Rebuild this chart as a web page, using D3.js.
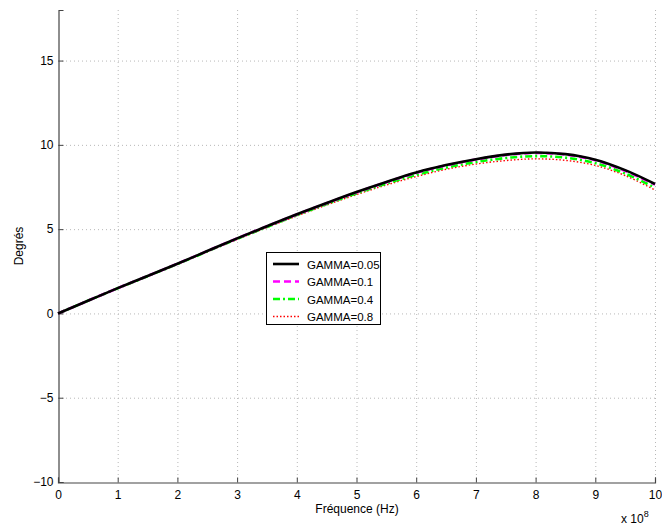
<!DOCTYPE html>
<html><head><meta charset="utf-8">
<script src="https://cdn.jsdelivr.net/npm/d3@7"></script>
<style>body{margin:0;background:#fff;} text{font-family:"Liberation Sans",Arial,sans-serif;}</style>
</head><body>
<svg id="c" width="662" height="526"></svg>
<script>
const freq = [0,0.5,1,1.5,2,2.5,3,3.5,4,4.5,5,5.5,6,6.5,7,7.5,8,8.5,9,9.5,10];
const g005 = [0,0.75,1.5,2.22,2.95,3.7,4.45,5.17,5.88,6.55,7.2,7.8,8.36,8.8,9.15,9.42,9.55,9.45,9.12,8.5,7.68];
const g01  = [0,0.75,1.5,2.22,2.95,3.7,4.45,5.17,5.87,6.54,7.18,7.78,8.34,8.78,9.13,9.4,9.52,9.42,9.09,8.46,7.64];
const g04  = [0,0.75,1.49,2.21,2.93,3.68,4.42,5.13,5.83,6.49,7.12,7.7,8.22,8.65,8.98,9.22,9.33,9.24,8.92,8.3,7.46];
const g08  = [0,0.74,1.48,2.2,2.92,3.66,4.39,5.1,5.78,6.43,7.05,7.62,8.12,8.55,8.86,9.07,9.17,9.08,8.78,8.18,7.32];
const names = ["GAMMA=0.05","GAMMA=0.1","GAMMA=0.4","GAMMA=0.8"];
const xTicks = [0,1,2,3,4,5,6,7,8,9,10];
const yTicks = [-10,-5,0,5,10,15];

const svg = d3.select("#c");
const L=58, R=655, T=10, B=482;
const x = d3.scaleLinear().domain([0,10]).range([L,R]);
const y = d3.scaleLinear().domain([-10,18]).range([B,T]);

// grid
const grid = svg.append("g").attr("stroke","#b8b8b8").attr("stroke-width",1).attr("stroke-dasharray","1,3");
xTicks.slice(1).forEach(t=>grid.append("line").attr("x1",x(t)+0.5).attr("x2",x(t)+0.5).attr("y1",T).attr("y2",B));
yTicks.slice(1).forEach(t=>grid.append("line").attr("x1",L).attr("x2",R).attr("y1",y(t)+0.5).attr("y2",y(t)+0.5));

// axes
const xa = svg.append("g").attr("transform",`translate(0,${B+0.5})`)
  .call(d3.axisBottom(x).tickValues(xTicks).tickSize(-5).tickPadding(8).tickFormat(d3.format("d")));
const ya = svg.append("g").attr("transform",`translate(${L+0.5},0)`)
  .call(d3.axisLeft(y).tickValues(yTicks).tickSize(-5).tickPadding(5).tickFormat(d3.format("d")));
[xa,ya].forEach(a=>{
  a.select(".domain").attr("stroke","#444").attr("stroke-width",1.2);
  a.selectAll(".tick line").attr("stroke","#444");
  a.selectAll(".tick text").attr("font-size",12).attr("fill","#000").attr("font-family","Liberation Sans, Arial, sans-serif");
});

// series
const series = [
  {v:g005, color:"#000000", w:2.6, dash:null},
  {v:g01,  color:"#ff00ff", w:2.6, dash:"7,4"},
  {v:g04,  color:"#00ff00", w:2.6, dash:"7,3,2,3"},
  {v:g08,  color:"#ff0000", w:1.4, dash:"1.5,2"}
];
const line = d3.line().x((d,i)=>x(freq[i])).y(d=>y(d)).curve(d3.curveCatmullRom);
series.slice().reverse().forEach(s=>{
  svg.append("path").attr("d",line(s.v)).attr("fill","none").attr("stroke",s.color)
    .attr("stroke-width",s.w).attr("stroke-dasharray",s.dash);
});

// legend
const lg = svg.append("g");
lg.append("rect").attr("x",266.5).attr("y",252.5).attr("width",114).attr("height",72)
  .attr("fill","#fff").attr("stroke","#000").attr("stroke-width",1);
series.forEach((s,i)=>{
  const yy = 264 + i*17.5;
  lg.append("line").attr("x1",273).attr("x2",299).attr("y1",yy).attr("y2",yy)
    .attr("stroke",s.color).attr("stroke-width",s.w).attr("stroke-dasharray",s.dash);
  lg.append("text").attr("x",307).attr("y",yy+4.5).attr("font-size",11.5).text(names[i]);
});

// labels
svg.append("text").attr("x",357).attr("y",513).attr("text-anchor","middle").attr("font-size",12).text("Fréquence (Hz)");
svg.append("text").attr("transform","translate(23,246) rotate(-90)").attr("text-anchor","middle").attr("font-size",12).text("Degrés");
const ex = svg.append("text").attr("x",621).attr("y",523).attr("font-size",12);
ex.append("tspan").text("x 10");
ex.append("tspan").attr("dy",-6).attr("font-size",9).text("8");
</script>
</body></html>
